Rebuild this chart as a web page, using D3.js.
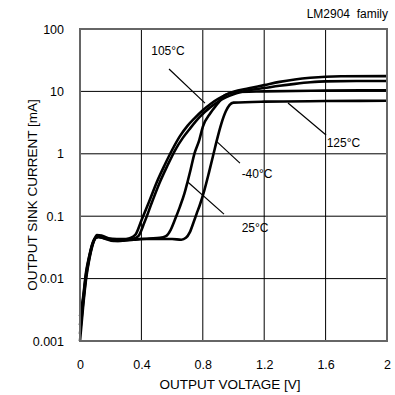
<!DOCTYPE html>
<html><head><meta charset="utf-8">
<script src="https://cdn.jsdelivr.net/npm/d3@7"></script>
<style>html,body{margin:0;padding:0;background:#fff;}svg{display:block;font-family:"Liberation Sans",Arial,sans-serif;}</style>
</head><body>
<svg id="chart" width="395" height="395"></svg>
<script>
// ---- data ----
const xTicks = [0, 0.4, 0.8, 1.2, 1.6, 2];
const xTickLabels = ["0", "0.4", "0.8", "1.2", "1.6", "2"];
const yTicks = [0.001, 0.01, 0.1, 1, 10, 100];
const yTickLabels = ["0.001", "0.01", "0.1", "1", "10", "100"];

const curveA_V = [0, 0.02, 0.04, 0.06, 0.08, 0.095, 0.11, 0.14, 0.2, 0.26, 0.32, 0.36, 0.40, 0.45, 0.5, 0.55, 0.6, 0.65, 0.7, 0.75, 0.8, 0.85, 0.9, 0.95, 1.0, 1.1, 1.2, 1.3, 1.4, 1.5, 1.6, 1.7, 2.0];
const curveA_I = [0.001, 0.0035, 0.01, 0.02, 0.033, 0.043, 0.05, 0.049, 0.043, 0.041, 0.044, 0.05, 0.085, 0.17, 0.35, 0.65, 1.15, 1.9, 2.8, 3.8, 5.0, 6.3, 7.6, 8.8, 9.9, 11.2, 12.6, 14.2, 15.5, 16.5, 17.2, 17.5, 17.6];

const curveB_V = [0, 0.02, 0.04, 0.06, 0.08, 0.1, 0.12, 0.16, 0.22, 0.28, 0.34, 0.38, 0.42, 0.47, 0.52, 0.57, 0.62, 0.67, 0.72, 0.78, 0.85, 0.9, 0.95, 1.0, 1.1, 1.2, 1.3, 1.4, 1.5, 1.6, 1.8, 2.0];
const curveB_I = [0.0013, 0.004, 0.011, 0.021, 0.034, 0.044, 0.047, 0.044, 0.04, 0.041, 0.043, 0.048, 0.08, 0.17, 0.35, 0.65, 1.15, 1.8, 2.6, 3.9, 5.6, 6.8, 8.0, 9.0, 10.4, 11.3, 12.3, 13.2, 14.0, 14.5, 14.7, 14.7];

const curveC_V = [0, 0.02, 0.04, 0.06, 0.08, 0.1, 0.12, 0.18, 0.25, 0.35, 0.45, 0.52, 0.56, 0.59, 0.62, 0.65, 0.68, 0.70, 0.72, 0.745, 0.777, 0.8, 0.85, 0.9, 0.93, 0.97, 1.0, 1.2, 1.6, 2.0];
const curveC_I = [0.0018, 0.0045, 0.012, 0.022, 0.035, 0.045, 0.047, 0.043, 0.04, 0.042, 0.044, 0.045, 0.048, 0.06, 0.09, 0.14, 0.23, 0.35, 0.55, 1.0, 1.66, 2.7, 4.5, 6.5, 8.2, 9.3, 9.7, 10.0, 10.3, 10.4];

const curveD_V = [0, 0.02, 0.04, 0.06, 0.08, 0.1, 0.12, 0.18, 0.3, 0.45, 0.6, 0.66, 0.69, 0.715, 0.74, 0.76, 0.78, 0.81, 0.84, 0.87, 0.89, 0.92, 0.95, 0.975, 1.0, 1.2, 1.6, 2.0];
const curveD_I = [0.0025, 0.005, 0.013, 0.023, 0.036, 0.045, 0.046, 0.044, 0.043, 0.043, 0.043, 0.042, 0.045, 0.055, 0.08, 0.11, 0.15, 0.26, 0.5, 1.0, 1.6, 3.0, 4.8, 6.1, 6.6, 6.85, 7.0, 7.1];

const seriesNames = ["105°C", "125°C", "25°C", "-40°C"];

// annotations (data units): label anchor and pointer line
const annLabels = ["105°C", "125°C", "-40°C", "25°C"];
const annLabelX = [0.573, 1.607, 1.053, 1.053];
const annLabelY = [38.3, 1.28, 0.41, 0.056];
const annAnchor = ["middle", "start", "start", "start"];
const annLineX1 = [0.58, 1.355, 0.893, 0.704];
const annLineY1 = [22.9, 6.5, 1.55, 0.35];
const annLineX2 = [0.814, 1.603, 1.042, 0.938];
const annLineY2 = [6.5, 2.0, 0.71, 0.108];

// ---- chart ----
const svg = d3.select("#chart");
const x = d3.scaleLinear().domain([0, 2]).range([80, 387]);
const y = d3.scaleLog().domain([0.001, 100]).range([341, 29]);

// grid
const g = svg.append("g");
g.selectAll(".vg").data(xTicks).join("line")
  .attr("x1", d => x(d)).attr("x2", d => x(d))
  .attr("y1", y(0.001)).attr("y2", y(100))
  .attr("stroke", "#000").attr("stroke-width", 1);
g.selectAll(".hg").data(yTicks).join("line")
  .attr("x1", x(0)).attr("x2", x(2))
  .attr("y1", d => y(d)).attr("y2", d => y(d))
  .attr("stroke", "#000").attr("stroke-width", 1);

// axes labels
const xAxis = d3.axisBottom(x).tickValues(xTicks).tickSize(0).tickPadding(0)
  .tickFormat((d, i) => xTickLabels[i]);
const xa = svg.append("g").attr("transform", `translate(0,${y(0.001)})`).call(xAxis);
xa.select(".domain").remove();
xa.selectAll("text").attr("font-size", 12.5).attr("fill", "#000")
  .attr("font-family", "Liberation Sans, Arial, sans-serif").attr("dy", "0").attr("y", 28);

const yAxis = d3.axisLeft(y).tickValues(yTicks).tickSize(0).tickPadding(0)
  .tickFormat((d, i) => yTickLabels[i]);
const ya = svg.append("g").attr("transform", `translate(${x(0) - 16},0)`).call(yAxis);
ya.select(".domain").remove();
ya.selectAll("text").attr("font-size", 12.5).attr("fill", "#000")
  .attr("font-family", "Liberation Sans, Arial, sans-serif");

// curves
const line = d3.line().x(d => x(d[0])).y(d => y(d[1])).curve(d3.curveMonotoneX);
const series = [
  d3.zip(curveA_V, curveA_I),
  d3.zip(curveB_V, curveB_I),
  d3.zip(curveC_V, curveC_I),
  d3.zip(curveD_V, curveD_I)
];
svg.append("g").selectAll("path").data(series).join("path")
  .attr("d", line).attr("fill", "none").attr("stroke", "#000")
  .attr("stroke-width", 2.6).attr("stroke-linejoin", "round");

// border
svg.append("rect").attr("x", x(0)).attr("y", y(100))
  .attr("width", x(2) - x(0)).attr("height", y(0.001) - y(100))
  .attr("fill", "none").attr("stroke", "#666").attr("stroke-width", 2);

// annotation lines and labels
const ann = svg.append("g");
annLabels.forEach((t, i) => {
  ann.append("line")
    .attr("x1", x(annLineX1[i])).attr("y1", y(annLineY1[i]))
    .attr("x2", x(annLineX2[i])).attr("y2", y(annLineY2[i]))
    .attr("stroke", "#000").attr("stroke-width", 1.2);
  ann.append("text").attr("x", x(annLabelX[i])).attr("y", y(annLabelY[i]))
    .attr("text-anchor", annAnchor[i]).attr("font-size", 12).attr("fill", "#000")
    .text(t);
});

// titles
svg.append("text").attr("x", 388).attr("y", 18).attr("text-anchor", "end")
  .attr("font-size", 12).attr("fill", "#000").attr("xml:space", "preserve").text("LM2904  family");
svg.append("text").attr("x", 230).attr("y", 389).attr("text-anchor", "middle")
  .attr("font-size", 13.5).attr("fill", "#000").text("OUTPUT VOLTAGE [V]");
svg.append("text").attr("transform", "translate(37,195) rotate(-90)").attr("text-anchor", "middle")
  .attr("font-size", 13.5).attr("fill", "#000").text("OUTPUT SINK CURRENT [mA]");
</script>
</body></html>
